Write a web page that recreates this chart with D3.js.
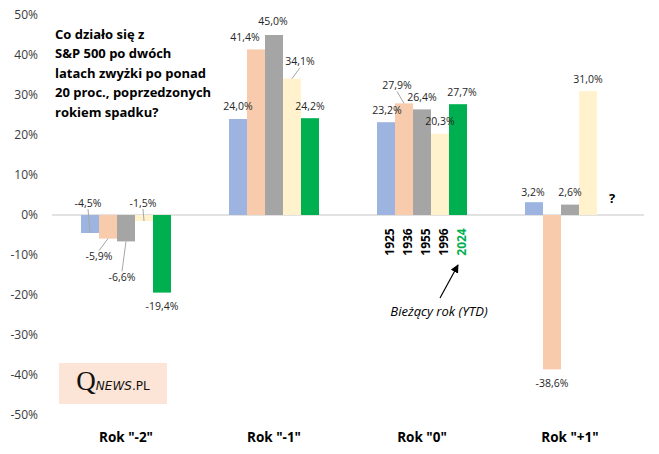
<!DOCTYPE html>
<html><head><meta charset="utf-8">
<script src="https://cdn.jsdelivr.net/npm/d3@7"></script>
<style>
html,body{margin:0;padding:0;background:#fff;}
svg{display:block;}
</style></head>
<body>
<svg id="chart" width="659" height="454"></svg>
<script>
// ---- data ----
const categories = ['Rok "-2"', 'Rok "-1"', 'Rok "0"', 'Rok "+1"'];
const years = ["1925", "1936", "1955", "1996", "2024"];
const v1925 = [-4.5, 24.0, 23.2, 3.2];
const v1936 = [-5.9, 41.4, 27.9, -38.6];
const v1955 = [-6.6, 45.0, 26.4, 2.6];
const v1996 = [-1.5, 34.1, 20.3, 31.0];
const v2024 = [-19.4, 24.2, 27.7, null];
const yTicks = [50, 40, 30, 20, 10, 0, -10, -20, -30, -40, -50];
const titleLines = ["Co działo się z", "S&P 500 po dwóch", "latach zwyżki po ponad", "20 proc., poprzedzonych", "rokiem spadku?"];
const currentYearNote = "Bieżący rok (YTD)";
const unknownMark = "?";

// ---- styling / layout ----
const seriesValues = [v1925, v1936, v1955, v1996, v2024];
const colors = ["#9DB4E0", "#F8CBAD", "#A5A5A5", "#FFF2CC", "#00B050"];
// label nudges [dx, dy, leader] per series per category
const labelNudge = [
  [[-2, -44, 1], [0, -1, 0], [1, 0, 0], [-1, 2, 0]],
  [[-9, 4, 1], [-11, 0, 0], [-7, -6, 1], [0, 0, 0]],
  [[-4, 22, 1], [-1, -2, 0], [0, 0, 0], [0, 0, 0]],
  [[-1, -32, 1], [8, -5, 1], [0, 0, 0], [0, 0, 0]],
  [[0, 0, 0], [0, 0, 0], [4, 0, 0], [0, 0, 0]]
];

const svg = d3.select("#chart");
const FONT = "'Open Sans', 'Liberation Sans', sans-serif";

const x0 = d3.scaleBand().domain(categories).range([52, 644])
  .paddingInner(58 / 148).paddingOuter(29 / 148);
const x1 = d3.scaleBand().domain(years).range([0, x0.bandwidth()]);
const y = d3.scaleLinear().domain([-50, 50]).range([415, 15]);

// y axis labels
svg.append("g").selectAll("text").data(yTicks).join("text")
  .attr("x", 38).attr("y", d => y(d)).attr("dy", "0.35em")
  .attr("text-anchor", "end")
  .style("font-family", FONT).style("font-size", "12px").attr("fill", "#3a3a3a")
  .text(d => d + "%");

// zero line
svg.append("line").attr("x1", 52).attr("x2", 644).attr("y1", y(0)).attr("y2", y(0))
  .attr("stroke", "#D9D9D9").attr("stroke-width", 1.5);

// bars
const barData = [];
seriesValues.forEach((vals, si) => {
  vals.forEach((v, ci) => {
    barData.push({ si, ci, v, year: years[si], cat: categories[ci] });
  });
});

svg.append("g").selectAll("rect").data(barData.filter(d => d.v !== null)).join("rect")
  .attr("x", d => x0(d.cat) + x1(d.year))
  .attr("width", x1.bandwidth())
  .attr("y", d => y(Math.max(0, d.v)))
  .attr("height", d => Math.abs(y(d.v) - y(0)))
  .attr("fill", d => colors[d.si]);

// data labels
const fmt = v => v.toFixed(1).replace(".", ",") + "%";
const labelG = svg.append("g");
barData.filter(d => d.v !== null).forEach(d => {
  const bx = x0(d.cat) + x1(d.year) + x1.bandwidth() / 2;
  const by = y(d.v);
  const [dx, dy, leader] = labelNudge[d.si][d.ci];
  const lx = bx + dx;
  const ly = (d.v >= 0 ? by - 12 : by + 14) + dy;
  if (leader) {
    const toward = ly < by ? 6 : -6;
    labelG.append("line")
      .attr("x1", bx).attr("y1", by)
      .attr("x2", lx).attr("y2", ly + toward)
      .attr("stroke", "#A6A6A6").attr("stroke-width", 1);
  }
  labelG.append("text")
    .attr("x", lx).attr("y", ly).attr("dy", "0.35em")
    .attr("text-anchor", "middle")
    .style("font-family", FONT).style("font-size", "10.5px").attr("fill", "#262626")
    .text(fmt(d.v));
});

// question mark for missing 2024 value in last group
barData.filter(d => d.v === null).forEach(d => {
  const bx = x0(d.cat) + x1(d.year) + x1.bandwidth() / 2;
  svg.append("text").attr("x", bx + 6).attr("y", y(0) - 17).attr("dy", "0.35em")
    .attr("text-anchor", "middle")
    .style("font-family", FONT).style("font-size", "13px").style("font-weight", "bold")
    .attr("fill", "#000").text(unknownMark);
});

// year labels under Rok "0"
const midCat = categories[2];
svg.append("g").selectAll("text").data(years).join("text")
  .attr("transform", d => `translate(${x0(midCat) + x1(d) + x1.bandwidth() / 2 + 4},242) rotate(-90)`)
  .attr("text-anchor", "middle").attr("dy", "0.35em")
  .style("font-family", FONT).style("font-size", "12px").style("font-weight", "bold")
  .attr("fill", (d, i) => i === years.length - 1 ? "#00B050" : "#000")
  .text(d => d);

// arrow + note
const defs = svg.append("defs");
defs.append("marker").attr("id", "ah").attr("viewBox", "0 0 10 10")
  .attr("refX", 9).attr("refY", 5).attr("markerWidth", 7).attr("markerHeight", 7)
  .attr("orient", "auto")
  .append("path").attr("d", "M0,0 L10,5 L0,10 z").attr("fill", "#000");
const lastX = x0(midCat) + x1(years[4]) + x1.bandwidth() / 2;
svg.append("line").attr("x1", 440).attr("y1", 298).attr("x2", lastX).attr("y2", 265)
  .attr("stroke", "#000").attr("stroke-width", 1.2).attr("marker-end", "url(#ah)");
svg.append("text").attr("x", 439).attr("y", 311).attr("dy", "0.35em")
  .attr("text-anchor", "middle")
  .style("font-family", FONT).style("font-size", "13px").style("font-style", "italic")
  .attr("fill", "#000").text(currentYearNote);

// category labels
svg.append("g").selectAll("text").data(categories).join("text")
  .attr("x", d => x0(d) + x0.bandwidth() / 2).attr("y", 437).attr("dy", "0.35em")
  .attr("text-anchor", "middle")
  .style("font-family", FONT).style("font-size", "13.5px").style("font-weight", "bold")
  .attr("fill", "#000").text(d => d);

// title
svg.append("g").selectAll("text").data(titleLines).join("text")
  .attr("x", 55).attr("y", (d, i) => 34 + i * 19.5).attr("dy", "0.35em")
  .style("font-family", FONT).style("font-size", "13px").style("font-weight", "bold")
  .attr("fill", "#000").text(d => d);

// logo
const logo = svg.append("g");
logo.append("rect").attr("x", 59).attr("y", 363).attr("width", 108).attr("height", 41).attr("fill", "#FCE4D6");
const lt = logo.append("text").attr("x", 113).attr("y", 390).attr("text-anchor", "middle").attr("fill", "#111");
lt.append("tspan").style("font-family", "'Liberation Serif', serif").style("font-size", "27px").text("Q");
lt.append("tspan").style("font-family", "'DejaVu Sans', sans-serif").style("font-size", "12px").style("font-style", "italic").text("NEWS");
lt.append("tspan").style("font-family", "'DejaVu Sans', sans-serif").style("font-size", "12px").text(".PL");
</script>
</body></html>
